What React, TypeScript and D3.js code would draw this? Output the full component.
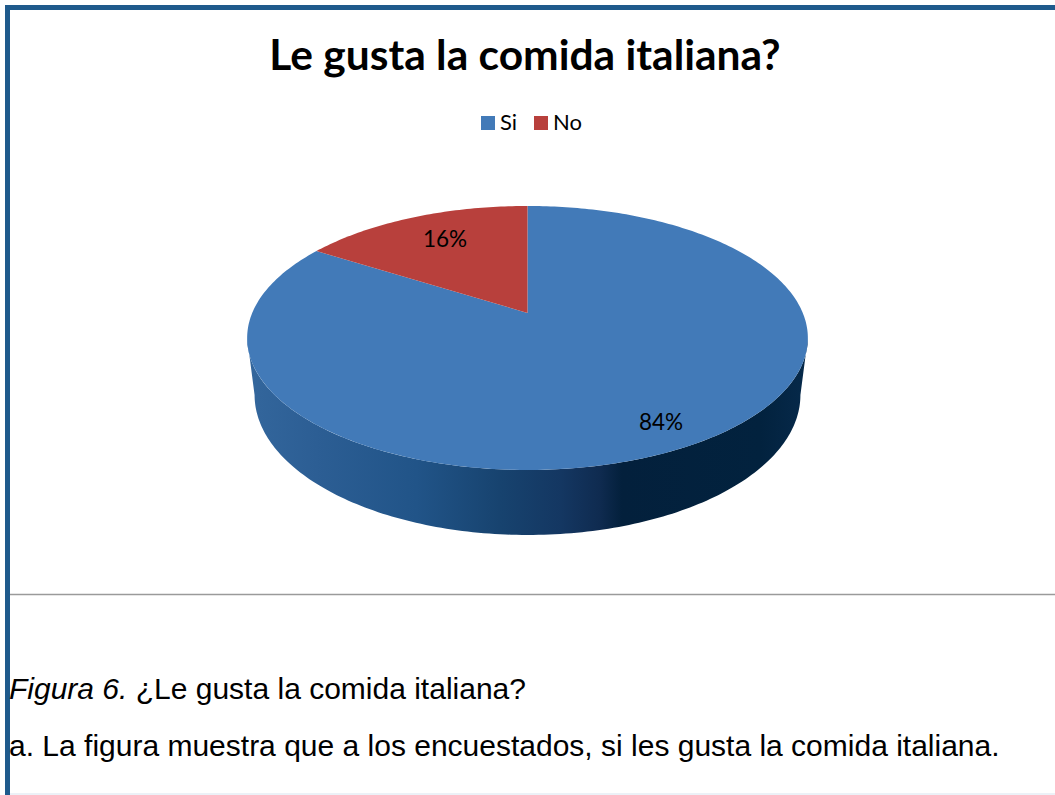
import React from "react";
import * as d3 from "d3";

const categories = ["Si", "No"];
const shares = [84, 16];
const sliceColors = ["#427ab8", "#b8403c"];
const chartTitle = "Le gusta la comida italiana?";
const captionLead = "Figura 6.";
const captionRest = " ¿Le gusta la comida italiana?";
const captionNote = "a. La figura muestra que a los encuestados, si les gusta la comida italiana.";
const wallStops: [number, string][] = [
  [0, "#33669c"],
  [0.12, "#2c5e94"],
  [0.3, "#215488"],
  [0.45, "#17436f"],
  [0.56, "#143762"],
  [0.63, "#0f2b50"],
  [0.67, "#03203c"],
  [0.92, "#02223e"],
  [1, "#06294a"],
];

const W = 1055;
const H = 795;

// Perspective view of a flat disc: the far edge shrinks, the near edge grows.
const KEEN = 0.189;
type Disc = { cx: number; cy: number; a: number; b: number };
const topDisc: Disc = { cx: 527.5, cy: 313, a: 275.3, b: 127.3 };
const floorDisc: Disc = { cx: 527.5, cy: 368.5, a: 268, b: 135 };

const project = (d: Disc, angle: number): [number, number] => {
  const sx = Math.sin(angle);
  const cz = Math.cos(angle);
  const w = 1 + KEEN * cz;
  return [d.cx + (d.a * sx) / w, d.cy - (d.b * cz) / w];
};

const angleList = (from: number, to: number) => {
  const n = Math.max(2, Math.ceil(Math.abs(to - from) * 60));
  return d3.range(n + 1).map((i) => from + ((to - from) * i) / n);
};

const lineGen = d3.line<[number, number]>();

export default function App() {
  // "No" ends at twelve o'clock, "Si" takes the clockwise sweep from there.
  const arcs = d3
    .pie<number>()
    .sort(null)
    .value((v) => v)(shares);

  const slicePath = (start: number, end: number) =>
    lineGen([[topDisc.cx, topDisc.cy], ...angleList(start, end).map((t) => project(topDisc, t))])! + "Z";

  // The silhouette meets the rim slightly behind the horizontal diameter's projection.
  const sideAngle = Math.PI / 2 + Math.asin(KEEN);
  const wallTop = angleList(sideAngle, 2 * Math.PI - sideAngle).map((t) => project(topDisc, t));
  const wallBottom = angleList(2 * Math.PI - sideAngle, sideAngle).map((t) => project(floorDisc, t));
  const wallPath = lineGen([...wallTop, ...wallBottom])! + "Z";

  const valueLabels: [number, number][] = [
    [661, 423],
    [445, 240],
  ];
  const legendX = d3.scalePoint<string>().domain(categories).range([481, 534]);

  return (
    <svg
      width={W}
      height={H}
      viewBox={`0 0 ${W} ${H}`}
      style={{ position: "absolute", left: 0, top: 0, background: "#fff" }}
    >
      <defs>
        <linearGradient id="wall" gradientUnits="userSpaceOnUse" x1={250} x2={805} y1={0} y2={0}>
          {wallStops.map(([o, c]) => (
            <stop key={o} offset={o} stopColor={c} />
          ))}
        </linearGradient>
      </defs>

      {/* page frame */}
      <rect x={5} y={5} width={W - 5} height={5} fill="#1f5a8c" />
      <rect x={5} y={5} width={5} height={H - 5} fill="#1f5a8c" />
      <line x1={10} x2={W} y1={594.5} y2={594.5} stroke="#9a9a9a" strokeWidth={1.5} />
      <line x1={10} x2={W} y1={794} y2={794} stroke="#e6edf4" strokeWidth={1.5} />

      <text
        x={525}
        y={70}
        textAnchor="middle"
        fontFamily="Lato, sans-serif"
        fontWeight={700}
        fontSize={42.5}
        fill="#000"
      >
        {chartTitle}
      </text>

      {/* legend */}
      {categories.map((c, i) => (
        <g key={c}>
          <rect x={legendX(c)} y={116} width={14} height={14} fill={sliceColors[i]} />
          <text
            x={legendX(c)! + 19}
            y={130}
            fontFamily="Lato, sans-serif"
            fontSize={22}
            fill="#000"
          >
            {c}
          </text>
        </g>
      ))}

      {/* pie */}
      <path d={wallPath} fill="url(#wall)" />
      {arcs.map((a, i) => (
        <path key={categories[i]} d={slicePath(a.startAngle, a.endAngle)} fill={sliceColors[i]} />
      ))}
      {arcs.map((a, i) => (
        <text
          key={categories[i]}
          x={valueLabels[i][0]}
          y={valueLabels[i][1] + 7}
          textAnchor="middle"
          fontFamily="Lato, sans-serif"
          fontSize={22.5}
          fill="#000"
        >
          {`${a.data}%`}
        </text>
      ))}

      {/* caption */}
      <text x={9} y={699} fontFamily="'Liberation Sans', Arial, sans-serif" fontSize={30} fill="#000">
        <tspan fontStyle="italic">{captionLead}</tspan>
        <tspan>{captionRest}</tspan>
      </text>
      <text x={9} y={756} fontFamily="'Liberation Sans', Arial, sans-serif" fontSize={30} fill="#000">
        {captionNote}
      </text>
    </svg>
  );
}
